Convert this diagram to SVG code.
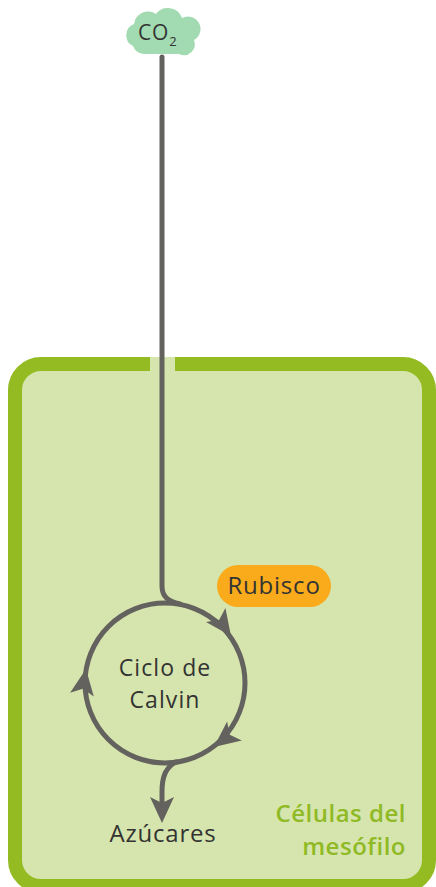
<svg xmlns="http://www.w3.org/2000/svg" width="436" height="887" viewBox="0 0 436 887">
  <style>
    .label { font-family: "Open Sans", "Liberation Sans", sans-serif; fill: #333333; font-size: 24px; letter-spacing: 0.8px; }
    .cycle { font-size: 23px; letter-spacing: 1.1px; }
    .cell-label { font-family: "Open Sans", "Liberation Sans", sans-serif; fill: #8fba25; font-size: 24px; font-weight: 600; letter-spacing: 0.5px; }
    .flow { fill: none; stroke: #63625e; stroke-width: 5; stroke-linecap: round; }
    .head { fill: #63625e; }
  </style>
  <defs>
    <!-- arrowhead pointing along +x, tip at the origin -->
    <path id="arrowhead" d="M0 0 L-26 -12 L-20 0 L-26 12 Z"/>
  </defs>

  <rect width="436" height="887" fill="#ffffff"/>

  <!-- mesophyll cell -->
  <g id="mesophyll-cell">
    <rect x="15" y="364" width="414" height="522" rx="26" ry="26" fill="#d6e5ad" stroke="#94bb22" stroke-width="14"/>
    <!-- opening in the cell wall where CO2 enters -->
    <rect x="150" y="357" width="25" height="15" fill="#d6e5ad"/>
    <text class="cell-label" x="406" y="822" text-anchor="end">Células del</text>
    <text class="cell-label" x="406" y="855" text-anchor="end">mesófilo</text>
  </g>

  <!-- connectors -->
  <g id="connectors">
    <path class="flow" d="M162 57 V586 C162 597 168 601 180 604"/>
    <circle class="flow" cx="165" cy="683" r="80"/>
    <path class="flow" d="M176 762 C166 767 162 776 162 792 V806"/>
    <use href="#arrowhead" class="head" transform="translate(231,636) rotate(54)"/>
    <use href="#arrowhead" class="head" transform="translate(214,747) rotate(142)"/>
    <use href="#arrowhead" class="head" transform="translate(86,669) rotate(279)"/>
    <use href="#arrowhead" class="head" transform="translate(162,823) rotate(90)"/>
  </g>

  <g id="co2">
    <path d="M133 46 a12 12 0 0 1 1 -22 a14 14 0 0 1 22 -10 a15 15 0 0 1 26 4 a12 12 0 0 1 12 22 a11 11 0 0 1 -15 14 H146 a12 12 0 0 1 -13 -8 Z" fill="#a2dbb1"/>
    <text class="label" x="138" y="40" style="font-size:21px;letter-spacing:0.8px">CO<tspan dy="6" style="font-size:13px">2</tspan></text>
  </g>

  <g id="rubisco">
    <rect x="217" y="565" width="114" height="42" rx="21" ry="21" fill="#f9ab1b"/>
    <text class="label" x="274" y="594" text-anchor="middle">Rubisco</text>
  </g>

  <g id="calvin-cycle">
    <text class="label cycle" x="165" y="676" text-anchor="middle">Ciclo de</text>
    <text class="label cycle" x="165" y="708" text-anchor="middle">Calvin</text>
  </g>

  <g id="sugars">
    <text class="label" x="163" y="842" text-anchor="middle">Azúcares</text>
  </g>
</svg>
